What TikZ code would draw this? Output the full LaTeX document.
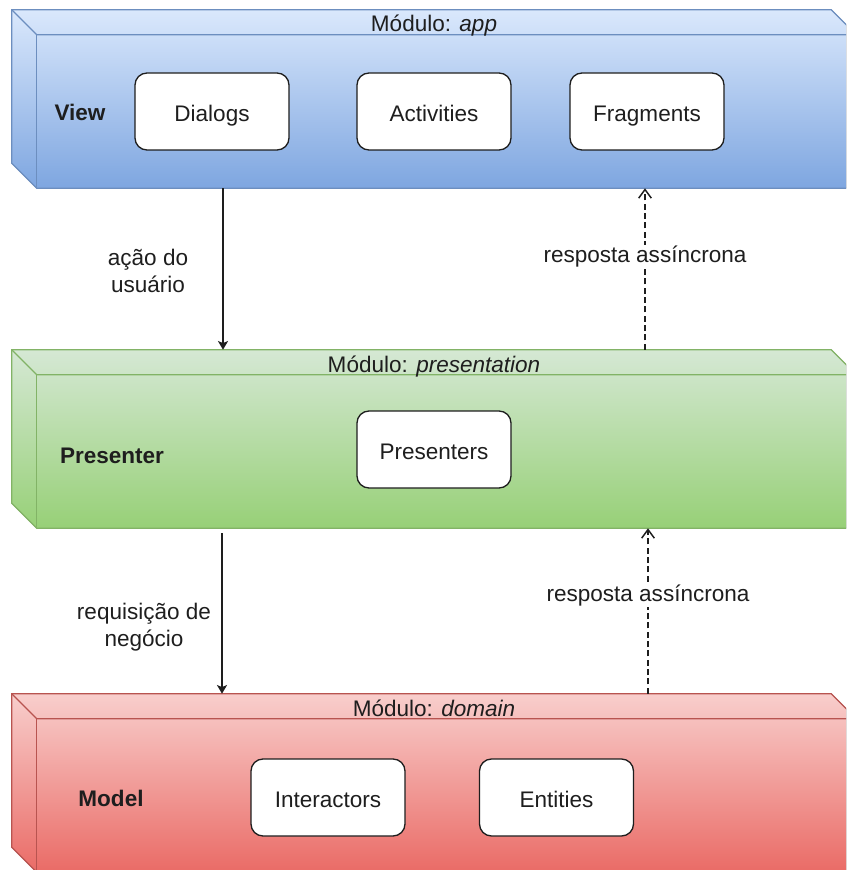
\documentclass[tikz,border=0pt]{standalone}
\usepackage{fontspec}
\setmainfont{Liberation Sans}
\usetikzlibrary{calc,arrows.meta}

\definecolor{blueTop}{HTML}{DAE8FC}
\definecolor{blueBot}{HTML}{7EA6E0}
\definecolor{blueLine}{HTML}{6C8EBF}
\definecolor{greenTop}{HTML}{D5E8D4}
\definecolor{greenBot}{HTML}{97D077}
\definecolor{greenLine}{HTML}{82B366}
\definecolor{redTop}{HTML}{F8CECC}
\definecolor{redBot}{HTML}{EA6B66}
\definecolor{redLine}{HTML}{B85450}
\definecolor{ink}{HTML}{1E1E1E}

% 3D layer block drawn around a (borderless) node: back-top-left corner,
% slanted top face and left face with a depth of 25 units
\newcommand\layerblock[4]{%
  \fill[top color=#2,bottom color=#3]
    (#1.north west) -- ($(#1.north east)+(-25,0)$) -- ($(#1.north east)+(0,25)$)
    -- (#1.south east) -- ($(#1.south west)+(25,0)$) -- ($(#1.south west)+(0,-25)$) -- cycle;
  \draw[#4,line width=1pt]
    (#1.north west) -- ($(#1.north east)+(-25,0)$) -- ($(#1.north east)+(0,25)$)
    -- (#1.south east) -- ($(#1.south west)+(25,0)$) -- ($(#1.south west)+(0,-25)$) -- cycle;
  \draw[#4,line width=1pt]
    (#1.north west) -- ($(#1.north west)+(25,25)$) -- ($(#1.north east)+(0,25)$);
  \draw[#4,line width=1pt]
    ($(#1.north west)+(25,25)$) -- ($(#1.south west)+(25,0)$);
}

\begin{document}
\begin{tikzpicture}[x=0.75pt,y=-0.75pt,
  font=\fontsize{16.9}{20.3}\selectfont,
  text=ink,
  layer/.style={draw=none,inner sep=0pt,minimum width=633pt,minimum height=133.5pt},
  part/.style={draw=ink,fill=white,line width=1pt,rounded corners=9pt,
    minimum width=115.5pt,minimum height=57.75pt,inner sep=0pt,
    text height=15.2pt,text depth=0pt},
  role/.style={font=\fontsize{16.9}{20.3}\selectfont\bfseries,anchor=base},
  title/.style={inner sep=0pt,anchor=base},
  note/.style={align=center,inner sep=1pt},
  call/.style={draw=ink,line width=1.2pt,-{Stealth[length=6.5pt,width=7.5pt,inset=1.5pt]}},
  reply/.style={draw=ink,line width=1.1pt,dash pattern=on 4.5pt off 2.5pt,
    -{Straight Barb[length=6.5pt,width=9.5pt]}},
]
\useasboundingbox (0,0) rectangle (846,870);
\clip (0,0) rectangle (846,870);

% layer blocks
\node[layer] (app) at (434,99) {};
\node[layer] (presentation) at (434,439) {};
\node[layer] (domain) at (434,783) {};
\layerblock{app}{blueTop}{blueBot}{blueLine}
\layerblock{presentation}{greenTop}{greenBot}{greenLine}
\layerblock{domain}{redTop}{redBot}{redLine}

% module titles on the top faces
\node[title] (apptitle) at (434,31.5) {Módulo: \textit{app}};
\node[title] (prestitle) at (434,372.5) {Módulo: \textit{presentation}};
\node[title] (domtitle) at (434,716) {Módulo: \textit{domain}};

% layer roles
\node[role] (view) at (80,120.5) {View};
\node[role] (presenter) at (112,463) {Presenter};
\node[role] (model) at (111,806.5) {Model};

% components
\node[part] (dialogs) at (212,111.5) {Dialogs};
\node[part] (activities) at (434,111.5) {Activities};
\node[part] (fragments) at (647,111.5) {Fragments};
\node[part] (presenters) at (434,449.5) {Presenters};
\node[part] (interactors) at (328,797.5) {Interactors};
\node[part] (entities) at (556.5,797.5) {Entities};

% connector columns
\coordinate (c1) at (223,0);
\coordinate (c2) at (645,0);
\coordinate (c3) at (222,0);
\coordinate (c4) at (648,0);

% requests go down, asynchronous replies come back up
\draw[call] (app.south -| c1) -- (presentation.north -| c1);
\draw[reply] (presentation.north -| c2) -- (app.south -| c2);
\draw[call] ($(presentation.south -| c3)+(0,5)$) -- (domain.north -| c3);
\draw[reply] (domain.north -| c4) -- (presentation.south -| c4);

\node[note] (l1) at (148,271) {ação do\\usuário};
\node[note,fill=white] (l2) at (645,256.5) {resposta assíncrona};
\node[note] (l3) at (144,627) {requisição de\\negócio};
\node[note,fill=white] (l4) at (648,595.5) {resposta assíncrona};
\end{tikzpicture}
\end{document}
